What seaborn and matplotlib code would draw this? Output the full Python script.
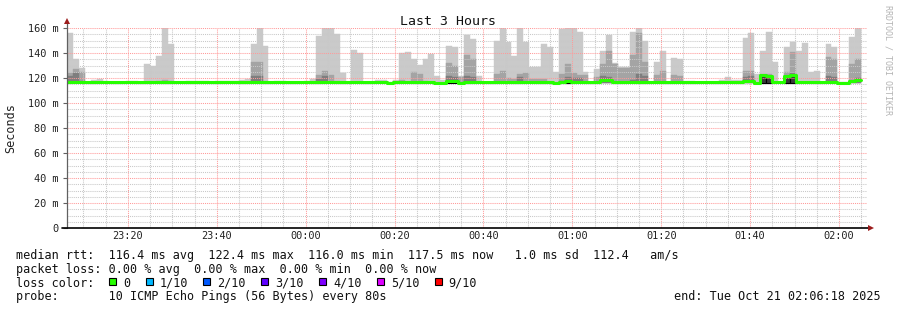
import numpy as np
import pandas as pd
import matplotlib
matplotlib.use("Agg")
import matplotlib.pyplot as plt
import seaborn as sns
from matplotlib.patches import Rectangle
from matplotlib.lines import Line2D

N = None

# ---------------- data ----------------
STEP_SEC = 80
START_HMS = (23, 6, 18)
ping_min = 116.0

# smoke: outermost (max ping) envelope, 135 steps of 80 s
smoke_max = [
    156, 135, 128, 117, 118.5, 119.5, 118, 117, 117, 117,
    117.5, 117.5, 117, 131.5, 130, 137.6, 160, 147, 117, 117,
    118, 118, 117.5, 117.5, 117, 117.5, 117.5, 117.5, 118, 118.5,
    119.5, 147, 160, 145.6, 117, 117.5, 117.5, 117, 117, 117,
    117.5, 119.5, 153.6, 160, 160, 155, 124, 117, 142.4, 140,
    117, 117, 118.5, 118.5, 117, 118.5, 140, 140.8, 135, 130.7,
    135, 139.2, 122, 118.5, 146, 145, 122, 154.7, 151.5, 122,
    117, 117, 150, 160, 148.8, 137.6, 160, 149, 129, 129,
    147.5, 144.8, 124.8, 159, 160, 160, 156.8, 124.8, 117, 127,
    141.3, 154.7, 132, 129, 129, 156.8, 160, 149.6, 117, 132.8,
    141.3, 117, 136, 135, 117.7, 117.7, 117, 117, 117, 117,
    118.5, 120.8, 118.5, 118.5, 152, 156, 123.5, 141.3, 157, 133,
    117, 144.8, 148.8, 141.3, 148, 124.8, 125.3, 117, 147.2, 144.8,
    117, 117, 152.8, 160, N]

smoke_mid = [
    124, 127, 125, N, N, N, N, N, N, N,
    N, N, N, N, N, 118, 118.5, 117.5, N, N,
    N, N, N, N, N, N, N, N, N, N,
    N, 133, 133, 118, N, N, N, N, N, N,
    N, N, 122.7, 126, 122.7, 118, N, N, N, N,
    N, N, N, N, N, N, 118.5, N, 124.8, 123.2,
    118, N, N, N, 132, 130, 121, 138.7, 135, N,
    N, N, 123.5, 125.3, 120, 119, 123.5, 124, 119.5, 119.5,
    119.5, N, N, 123.5, 131.5, 124, 122.7, 122.7, N, 121,
    131.5, 142, 131, 128, 128, 138.7, 155.7, 133, N, 122.7,
    125.3, N, 122.7, 121.6, N, N, N, N, N, N,
    N, N, N, N, 126, 126, N, 123.5, 123.5, N,
    N, 124.8, 140.8, N, N, N, N, N, 136.8, 135.5,
    N, N, 131, 135.5, N]

smoke_dark = [
    122, 124, 118, N, N, N, N, N, N, N,
    N, N, N, N, N, N, N, N, N, N,
    N, N, N, N, N, N, N, N, N, N,
    N, 121.6, 121.6, N, N, N, N, N, N, N,
    N, N, 119, 122, N, N, N, N, N, N,
    N, N, N, N, N, N, N, N, N, N,
    N, N, N, N, 122, 121, N, 122, 121, N,
    N, N, N, N, N, N, 121, N, N, N,
    N, N, N, 117.7, 121, 120, 120, N, N, N,
    122, 121, N, N, N, 118.5, 123.5, 121.6, N, N,
    N, N, N, N, N, N, N, N, N, N,
    N, N, N, N, 121, 121.6, N, 122.4, 122, N,
    N, 122, 124, N, N, N, N, N, 121.6, 121,
    N, N, 118, 120, N]

core_steps = [64, 65, 84, 117, 118, 121, 122]
core_top = [117.8, 117.8, 117.4, 122.4, 122.0, 121.8, 122.5]

median_rtt = [
    117.2, 117.2, 116.9, 116.6, 116.5, 116.5, 116.5, 116.5, 116.5, 116.5,
    116.5, 116.5, 116.5, 116.5, 116.5, 116.5, 116.8, 116.6, 116.5, 116.5,
    116.5, 116.5, 116.5, 116.5, 116.5, 116.5, 116.5, 116.5, 116.5, 116.5,
    116.6, 116.8, 116.8, 116.6, 116.5, 116.5, 116.5, 116.5, 116.5, 116.5,
    116.5, 116.5, 116.7, 116.8, 116.7, 116.5, 116.5, 116.5, 116.5, 116.5,
    116.5, 116.5, 116.5, 116.5, 116.4, 116.6, 116.8, 116.8, 116.8, 116.8,
    116.7, 116.5, 116.3, 116.3, 118.0, 118.0, 116.3, 116.5, 116.5, 116.5,
    116.5, 116.5, 116.5, 116.5, 116.5, 116.5, 116.5, 116.5, 116.5, 116.5,
    116.5, 116.5, 116.3, 116.6, 117.5, 117.0, 116.8, 116.6, 116.5, 116.6,
    118.2, 118.2, 116.6, 116.6, 116.6, 116.5, 116.6, 116.6, 116.5, 116.5,
    116.5, 116.5, 116.5, 116.5, 116.5, 116.5, 116.5, 116.5, 116.5, 116.5,
    116.5, 116.5, 116.5, 116.5, 118.0, 118.0, 116.0, 122.4, 122.0, 116.5,
    116.5, 121.8, 122.5, 116.6, 116.6, 116.6, 116.6, 116.5, 116.8, 116.8,
    116.3, 116.3, 117.5, 118.3, N]

time_labels = ["23:20", "23:40", "00:00", "00:20", "00:40",
               "01:00", "01:20", "01:40", "02:00"]
first_label_hm = (23, 20)
ytick_vals = [0, 20, 40, 60, 80, 100, 120, 140, 160]
ytick_labels = ["0", "20 m", "40 m", "60 m", "80 m", "100 m", "120 m", "140 m", "160 m"]

rtt_stats = [116.4, 122.4, 116.0, 117.5]   # avg, max, min, now
rtt_sd = 1.0
rtt_ams = 112.4
loss_stats = [0.00, 0.00, 0.00, 0.00]
loss_labels = ["0", "1/10", "2/10", "3/10", "4/10", "5/10", "9/10"]
loss_colors = ["#26ff00", "#00b8ff", "#0059ff", "#5e00ff", "#7e00ff", "#dd00ff", "#ff0000"]
probe_text = "10 ICMP Echo Pings (56 Bytes) every 80s"
end_text = "end: Tue Oct 21 02:06:18 2025"

# ---------------- style ----------------
sns.set_theme(style="white")
plt.rcParams["font.family"] = ["DejaVu Sans Mono", "DejaVu Sans"]
plt.rcParams["lines.scale_dashes"] = True

W, H = 897, 310
fig = plt.figure(figsize=(W / 100, H / 100), dpi=100)
fig.patch.set_facecolor("white")


def fx(px):
    return px / W


def fy(py):
    return 1 - py / H


ax = fig.add_axes([fx(67), fy(228), 800 / W, 200 / H])
ax.set_facecolor("white")

step_min = STEP_SEC / 60
n = len(smoke_max)
t = np.arange(n) * step_min


def arr(vals):
    return np.array([np.nan if v is None else v for v in vals], dtype=float)


for vals, col in [(smoke_max, "#cacaca"), (smoke_mid, "#a4a4a4"), (smoke_dark, "#7e7e7e")]:
    v = arr(vals)
    ok = ~np.isnan(v)
    ax.bar(t[ok], v[ok] - ping_min, bottom=ping_min, width=step_min, align="edge",
           color=col, edgecolor=col, linewidth=0.3, zorder=1)

ax.bar(np.array(core_steps) * step_min, np.array(core_top) - ping_min, bottom=ping_min,
       width=step_min, align="edge", color="#3a3a3a", edgecolor="#000000",
       linewidth=0.8, zorder=1.2)

rows = []
for i, m in enumerate(median_rtt):
    if m is None:
        continue
    rows.append((t[i], m))
    rows.append((t[i] + step_min, m))
df = pd.DataFrame(rows, columns=["t", "ms"])
sns.lineplot(data=df, x="t", y="ms", estimator=None, sort=False, color="#26ff00",
             linewidth=2.2, ax=ax, zorder=3, legend=False)
ax.set_xlabel("")
ax.set_ylabel("")

# ---------------- axes / grid ----------------
start_min = START_HMS[0] * 60 + START_HMS[1] + START_HMS[2] / 60
first_major = first_label_hm[0] * 60 + first_label_hm[1] - start_min
major_x = first_major + 20 * np.arange(len(time_labels))
ax.set_xticks(major_x, time_labels)
ax.set_xticks(np.arange(first_major % 5, n * step_min, 5), minor=True)
ax.set_yticks(ytick_vals, ytick_labels)
ax.set_yticks(np.arange(0, 161, 5), minor=True)

ax.set_axisbelow(False)
ax.grid(True, which="minor", color="#c8c8c8", linestyle=(0, (1, 1)), linewidth=0.75)
ax.grid(True, which="major", color="#ff9a9a", linestyle=(0, (1, 1)), linewidth=0.75)

ax.tick_params(axis="x", which="both", bottom=False, length=0, pad=2.5,
               labelsize=7.4, labelcolor="#222222")
ax.tick_params(axis="y", which="major", left=True, length=3, width=0.8, color="#606060",
               pad=3.2, labelsize=7.4, labelcolor="#222222")
ax.tick_params(axis="y", which="minor", left=False, length=0)

for s in ax.spines.values():
    s.set_visible(False)

ax.add_line(Line2D([0, 0], [0, 1.025], transform=ax.transAxes, color="#606060",
                   lw=0.9, clip_on=False, zorder=4))
ax.add_line(Line2D([-0.006, 1.003], [0, 0], transform=ax.transAxes, color="black",
                   lw=1.2, clip_on=False, zorder=4))
ax.add_line(Line2D([0], [1.033], transform=ax.transAxes, marker="^", markersize=4.5,
                   color="#9c1c1c", markeredgewidth=0, linestyle="none",
                   clip_on=False, zorder=5))
ax.add_line(Line2D([1.005], [0], transform=ax.transAxes, marker=">", markersize=4.5,
                   color="#9c1c1c", markeredgewidth=0, linestyle="none",
                   clip_on=False, zorder=5))

ax.set_xlim(0, n * step_min)
ax.set_ylim(0, 160)

# ---------------- texts ----------------
fig.text(fx(448), fy(25), "Last 3 Hours", ha="center", va="baseline",
         fontsize=9.5, color="#111111")
fig.text(fx(11), fy(128), "Seconds", rotation=90, ha="center", va="center",
         fontsize=8.5, color="#222222")
fig.text(fx(887.5), fy(60), "RRDTOOL / TOBI OETIKER", rotation=270, ha="center",
         va="center", fontsize=6, color="#b4b4b4")

LFS = 8.5
line1 = ("median rtt:  " + "  ".join([
    f"{rtt_stats[0]:.1f} ms avg", f"{rtt_stats[1]:.1f} ms max",
    f"{rtt_stats[2]:.1f} ms min", f"{rtt_stats[3]:.1f} ms now"])
    + f"   {rtt_sd:.1f} ms sd  {rtt_ams:.1f}   am/s")
line2 = "packet loss: " + "  ".join([
    f"{loss_stats[0]:.2f} % avg", f"{loss_stats[1]:.2f} % max",
    f"{loss_stats[2]:.2f} % min", f"{loss_stats[3]:.2f} % now"])
fig.text(fx(16), fy(259.2), line1, ha="left", va="baseline", fontsize=LFS, color="#111111")
fig.text(fx(16), fy(272.9), line2, ha="left", va="baseline", fontsize=LFS, color="#111111")
fig.text(fx(16), fy(286.6), "loss color:", ha="left", va="baseline", fontsize=LFS, color="#111111")
fig.text(fx(16), fy(300.3), "probe:       " + probe_text, ha="left", va="baseline",
         fontsize=LFS, color="#111111")
fig.text(fx(881), fy(300.3), end_text, ha="right", va="baseline", fontsize=LFS, color="#111111")

xs = 109.0
for lab, col in zip(loss_labels, loss_colors):
    fig.patches.append(Rectangle((fx(xs), fy(285.2)), 7 / W, 7 / H, transform=fig.transFigure,
                                 facecolor=col, edgecolor="black", linewidth=0.8))
    fig.text(fx(xs + 14.2), fy(286.6), lab, ha="left", va="baseline", fontsize=LFS,
             color="#111111")
    xs += (len(lab) + 4) * 7.1 + 1.0

fig.savefig("out.png", dpi=100, facecolor="white")
